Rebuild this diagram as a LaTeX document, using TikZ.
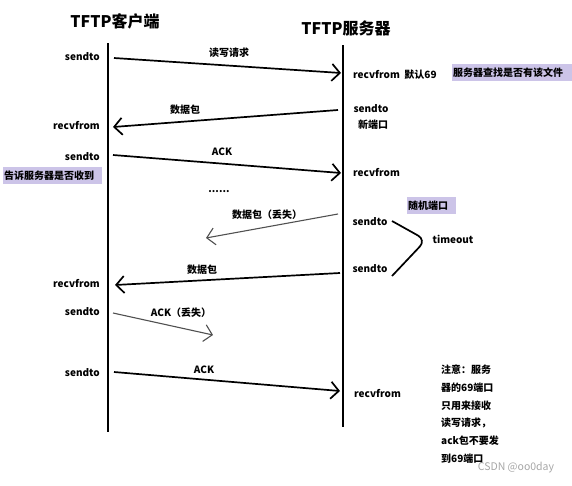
\documentclass[tikz,border=0pt]{standalone}
\usepackage{fontspec}
\setmainfont{Noto Sans CJK SC}
\usetikzlibrary{arrows.meta}
\definecolor{lilac}{RGB}{204,196,232}
\definecolor{lostgray}{RGB}{80,80,80}
\definecolor{inkline}{RGB}{0,0,0}
\tikzset{
  >={Straight Barb[length=8pt,width=17pt]},
  lifeline/.style={line width=1.7pt,draw=inkline},
  msg/.style={->,line width=1.7pt,draw=inkline},
  lostmsg/.style={->,line width=1.1pt,draw=lostgray},
  call/.style={font=\fontsize{10}{12}\selectfont\bfseries,inner sep=1pt},
  msglabel/.style={font=\fontsize{10}{12}\selectfont\bfseries,inner sep=1pt},
  hint/.style={fill=lilac,font=\fontsize{10}{12}\selectfont\bfseries,inner xsep=1pt,
    minimum height=17pt,align=left,anchor=west},
  title/.style={font=\fontsize{16}{18}\selectfont\bfseries},
}

\begin{document}
\begin{tikzpicture}[x=1pt,y=-1pt]
  \useasboundingbox (0,0) rectangle (572,485);
  % the two hosts
  \node[title] (client) at (115,21) {TFTP客户端};
  \node[title] (server) at (346,28) {TFTP服务器};
  \coordinate (ctop) at (108,43);
  \coordinate (cbot) at (108,432);
  \coordinate (stop) at (343,45);
  \coordinate (sbot) at (343,427);
  \draw[lifeline] (ctop) -- (cbot);
  \draw[lifeline] (stop) -- (sbot);

  % messages
  \foreach \n/\ax/\ay/\bx/\by/\s/\t/\lx/\ly in {
      1/114/58/341/73/msg/读写请求/229/53,
      2/338/110/113/127/msg/数据包/185/110,
      3/113/155/341/173/msg/ACK/222/152,
      4/338/214/206/238/lostmsg/数据包（丢失）/267/215,
      5/340/273/115/285/msg/数据包/202/270,
      6/113/313/213/335/lostmsg/ACK（丢失）/181/313,
      7/114/372/340/391/msg/ACK/204/370}
  {
    \coordinate (m\n a) at (\ax,\ay);
    \coordinate (m\n b) at (\bx,\by);
    \draw[\s] (m\n a) -- (m\n b);
    \node[msglabel] (l\n) at (\lx,\ly) {\t};
  }

  % calls on the client side
  \foreach \n/\y/\t in {1/57/sendto,2/126/recvfrom,3/157/sendto,4/283/recvfrom,5/312/sendto,6/373/sendto}
    \node[call,anchor=east] (c\n) at (101,\y) {\t};

  % calls on the server side
  \node[call,anchor=west] (s1) at (352,75) {recvfrom\ \ 默认69};
  \node[call] (s2) at (371,109) {sendto};
  \node[call] (s2b) at (373,125) {新端口};
  \node[call,anchor=west] (s3) at (352,172) {recvfrom};
  \node[call] (dots) at (219,192) {......};
  \node[call] (s4) at (370,222) {sendto};
  \node[call] (s5) at (370,269) {sendto};
  \node[call,anchor=west] (s6) at (353,393) {recvfrom};

  % retransmission after timeout
  \coordinate (t1) at (392,221);
  \coordinate (tm) at (426,240);
  \coordinate (t2) at (392,276);
  \draw[line width=1.7pt,rounded corners=9pt] (t1) -- (tm) -- (t2);
  \node[call] (tout) at (453,239) {timeout};

  % notes
  \node[hint,text width=118pt] (h1) at (452,72.5) {服务器查找是否有该文件};
  \node[hint,text width=97pt] (h2) at (3,175.5) {告诉服务器是否收到};
  \node[hint,text width=47pt] (h3) at (407,205.5) {随机端口};
  \node[anchor=north west,align=left,inner sep=0pt,
    font=\fontsize{10}{17.7}\selectfont\bfseries] (note) at (441,365)
    {注意：服务\\器的69端口\\只用来接收\\读写请求，\\ack包不要发\\到69端口};
  \node[text=gray!70,font=\fontsize{10.5}{12}\selectfont] (mark) at (516,468) {CSDN @oo0day};
\end{tikzpicture}
\end{document}
